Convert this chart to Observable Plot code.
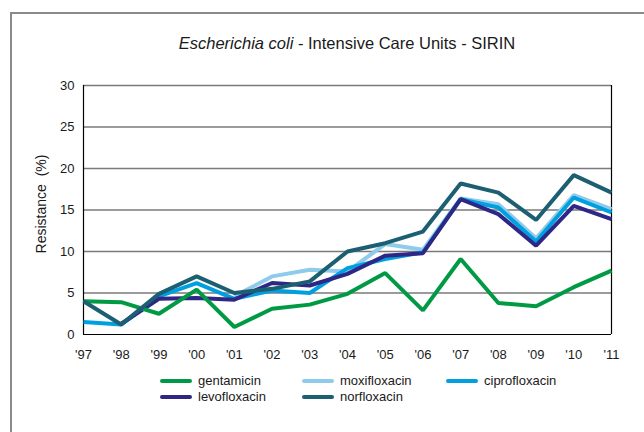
<!DOCTYPE html>
<html>
<head>
<meta charset="utf-8">
<script src="https://cdn.jsdelivr.net/npm/d3@7"></script>
<script src="https://cdn.jsdelivr.net/npm/@observablehq/plot@0.6"></script>
<style>
  html, body { margin: 0; padding: 0; background: #fff; }
  body { width: 644px; height: 432px; position: relative; overflow: hidden;
         font-family: "Liberation Sans", Arial, sans-serif; color: #1a1a1a; }
  #frame { position: absolute; left: 10px; top: 12px; width: 700px; height: 500px;
           border-left: 2px solid #8a8a8a; border-top: 2px solid #8a8a8a; }
  #chart { position: absolute; left: 0; top: 0; }
  #title { position: absolute; left: 83px; width: 528px; top: 34px; text-align: center; font-size: 16.5px; }
  #ylabel { position: absolute; left: 41px; top: 204px; transform: translate(-50%, -50%) rotate(-90deg);
            font-size: 14px; white-space: pre; }
  .leg { position: absolute; font-size: 13px; display: flex; align-items: center; white-space: nowrap; }
  .sw { display: inline-block; width: 32px; height: 4px; border-radius: 2px; margin-right: 6px; }
</style>
</head>
<body>
<div id="frame"></div>
<div id="chart"></div>
<div id="title"><i>Escherichia coli</i> - Intensive Care Units - SIRIN</div>
<div id="ylabel">Resistance  (%)</div>
<div id="legend"></div>
<script>
const years = [1997,1998,1999,2000,2001,2002,2003,2004,2005,2006,2007,2008,2009,2010,2011];
const yTicks = [0,5,10,15,20,25,30];
const drugs = ["gentamicin","moxifloxacin","ciprofloxacin","levofloxacin","norfloxacin"];
const colors = ["#009a44","#8fcbea","#00a0e0","#2e2785","#1d5f72"];
const gentamicin    = [4.0,3.9,2.5,5.4,0.9,3.1,3.6,4.9,7.4,2.9,9.1,3.8,3.4,5.7,7.7];
const moxifloxacin  = [null,null,null,null,4.6,7.0,7.8,7.6,10.9,10.2,16.4,15.7,11.6,16.8,15.1];
const ciprofloxacin = [1.5,1.2,4.6,6.2,4.3,5.3,5.0,8.0,9.1,9.9,16.3,15.3,11.2,16.5,14.7];
const levofloxacin  = [null,1.3,4.3,4.4,4.2,6.2,5.9,7.3,9.5,9.8,16.3,14.5,10.7,15.5,13.9];
const norfloxacin   = [4.0,1.2,4.9,7.0,5.0,5.5,6.4,10.0,11.0,12.4,18.2,17.1,13.8,19.2,17.1];
const legendRows = [["gentamicin","moxifloxacin","ciprofloxacin"],["levofloxacin","norfloxacin"]];

const seriesValues = {gentamicin, moxifloxacin, ciprofloxacin, levofloxacin, norfloxacin};
const rows = drugs.flatMap(d => years.map((y, i) => ({year: y, value: seriesValues[d][i], drug: d})))
  .filter(r => r.value != null);
const drawOrder = ["moxifloxacin","ciprofloxacin","levofloxacin","gentamicin","norfloxacin"];

const chart = Plot.plot({
  width: 644, height: 372,
  marginLeft: 83, marginRight: 33, marginTop: 85, marginBottom: 38,
  style: {fontFamily: '"Liberation Sans", Arial, sans-serif', fontSize: "13px", color: "#1a1a1a", background: "transparent"},
  x: {type: "linear", domain: [1997, 2011], ticks: years, tickFormat: d => "'" + String(d).slice(2), tickSize: 0, tickPadding: 15, label: null},
  y: {domain: [0, 30], ticks: yTicks, tickSize: 0, tickPadding: 9, label: null},
  color: {domain: drugs, range: colors},
  marks: [
    Plot.ruleY(yTicks.filter(t => t > 0), {stroke: "#7a7a7a", strokeWidth: 1.5}),
    Plot.ruleY([0], {stroke: "#000", strokeWidth: 1.2}),
    Plot.ruleX([1997, 2011], {stroke: "#000", strokeWidth: 1.2}),
    ...drawOrder.map(d => Plot.line(rows.filter(r => r.drug === d), {
      x: "year", y: "value", stroke: "drug", strokeWidth: 4, strokeLinejoin: "miter", strokeLinecap: "butt"
    }))
  ]
});
document.getElementById("chart").appendChild(chart);

const leg = document.getElementById("legend");
const colX = [160, 302, 446];
const rowY = [381, 397];
legendRows.forEach((r, ri) => r.forEach((d, ci) => {
  const el = document.createElement("div");
  el.className = "leg";
  el.style.left = colX[ci] + "px";
  el.style.top = (rowY[ri] - 8) + "px";
  el.innerHTML = `<span class="sw" style="background:${colors[drugs.indexOf(d)]}"></span>${d}`;
  leg.appendChild(el);
}));
</script>
</body>
</html>
